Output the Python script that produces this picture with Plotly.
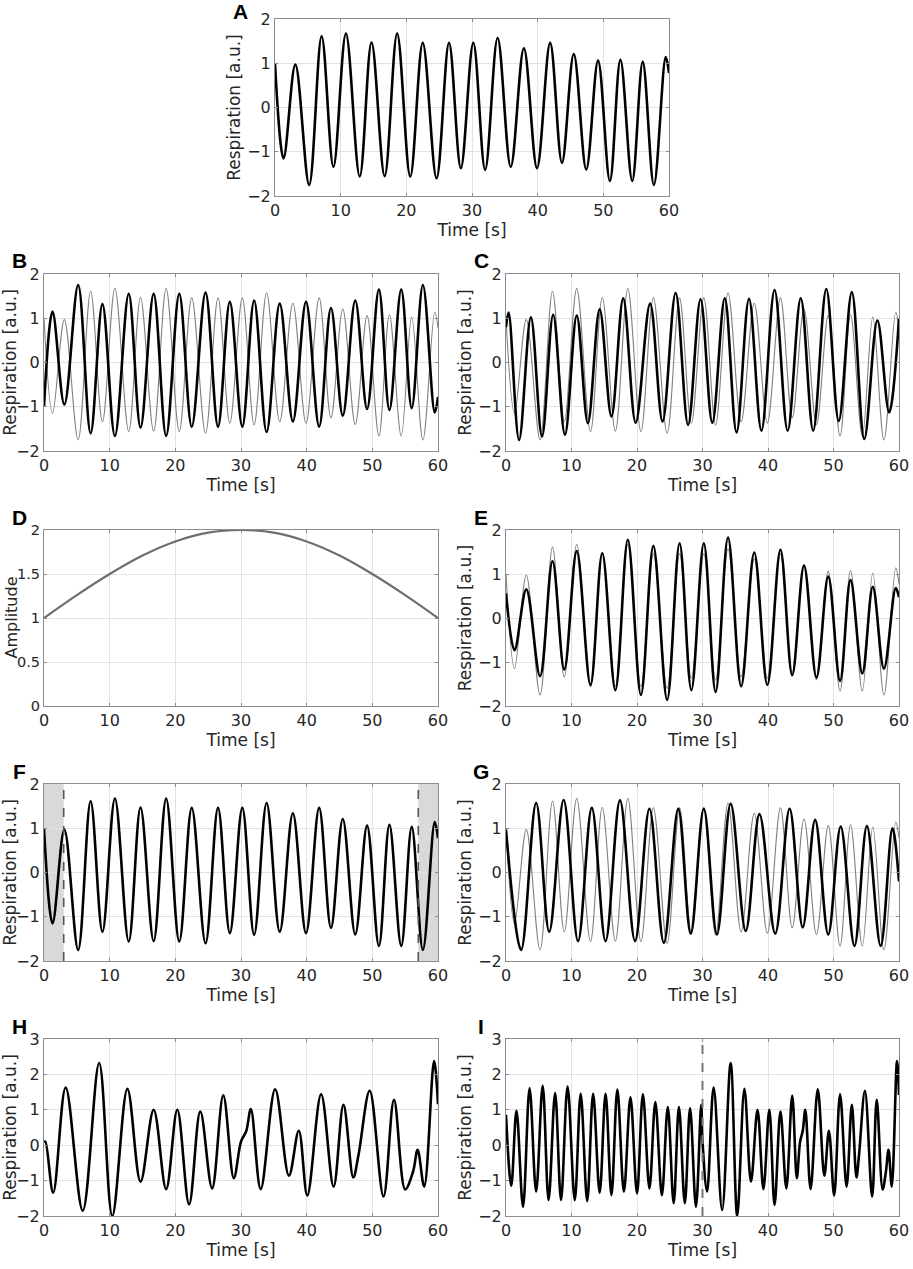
import plotly.graph_objects as go

# ---- data (extrema of each trace, time in s) ----

# panel A: original respiration signal (also the grey reference in B, C, E, G and the signal in F)
a_t = [0, 1.3, 3.1, 5.2, 7.1, 8.9, 10.8, 12.9, 14.7, 16.7, 18.6, 20.6, 22.5, 24.6, 26.5, 28.3, 30.2,
       32.0, 33.9, 35.9, 37.9, 39.9, 41.9, 43.7, 45.5, 47.4, 49.2, 51.0, 52.6, 54.4, 56.0, 57.7, 59.5, 60]
a_y = [1.0, -1.15, 0.97, -1.75, 1.61, -1.34, 1.67, -1.56, 1.47, -1.55, 1.67, -1.56, 1.46, -1.6, 1.46,
       -1.37, 1.46, -1.41, 1.57, -1.34, 1.34, -1.37, 1.46, -1.25, 1.21, -1.4, 1.06, -1.66, 1.08, -1.66,
       1.03, -1.75, 1.14, 0.78]

# panel B: inverted signal (same time points as A)
b_y = [-1.0, 1.15, -0.95, 1.75, -1.6, 1.32, -1.66, 1.55, -1.47, 1.55, -1.66, 1.55, -1.45, 1.58, -1.45,
       1.37, -1.45, 1.4, -1.57, 1.33, -1.33, 1.37, -1.45, 1.23, -1.2, 1.4, -1.05, 1.65, -1.07, 1.65,
       -1.03, 1.75, -1.13, -0.78]

# panel C: time-reversed signal
c_t = [0, 0.4, 2.0, 3.8, 5.5, 7.2, 9.0, 10.8, 12.5, 14.3, 16.1, 17.9, 19.8, 22.0, 23.9, 25.9, 27.8,
       29.7, 31.5, 33.4, 35.2, 37.1, 39.0, 41.0, 43.0, 45.0, 46.9, 48.9, 50.8, 52.8, 54.7, 56.7, 58.5, 60]
c_y = [0.8, 1.13, -1.75, 1.02, -1.67, 1.08, -1.63, 1.06, -1.37, 1.2, -1.22, 1.45, -1.36, 1.33, -1.33,
       1.57, -1.41, 1.43, -1.36, 1.45, -1.58, 1.44, -1.54, 1.64, -1.54, 1.45, -1.54, 1.66, -1.32, 1.59,
       -1.73, 0.95, -1.13, 1.0]

# panel D: amplitude envelope
d_t = [0, 5, 10, 15, 20, 25, 30, 35, 40, 45, 50, 55, 60]
d_y = [1.0, 1.26, 1.5, 1.71, 1.87, 1.97, 2.0, 1.97, 1.87, 1.71, 1.5, 1.26, 1.0]

# panel E: amplitude-modulated signal (same time points as A)
e_y = [0.56, -0.73, 0.65, -1.32, 1.29, -1.17, 1.52, -1.52, 1.47, -1.64, 1.78, -1.75, 1.64, -1.86, 1.7,
       -1.64, 1.7, -1.68, 1.83, -1.55, 1.49, -1.52, 1.55, -1.3, 1.19, -1.35, 0.94, -1.43, 0.86, -1.26,
       0.71, -1.15, 0.68, 0.47]

# panel F: excluded edges
f_window = [3, 57]

# panel G: time-shifted signal
g_t = [0, 2.3, 4.6, 6.6, 8.8, 11.0, 13.1, 15.2, 17.4, 19.7, 21.9, 24.1, 26.3, 28.2, 30.2, 32.2, 34.3,
       36.6, 38.7, 41.1, 43.3, 45.3, 47.2, 49.2, 51.1, 53.2, 55.1, 57.2, 59.0, 60]
g_y = [0.97, -1.75, 1.57, -1.34, 1.64, -1.55, 1.46, -1.55, 1.63, -1.55, 1.44, -1.59, 1.44, -1.38, 1.44,
       -1.4, 1.55, -1.32, 1.32, -1.38, 1.44, -1.24, 1.19, -1.4, 1.04, -1.66, 1.05, -1.66, 1.0, -0.2]

# panel H: irregular signal
h_t = [0, 0.2, 1.4, 3.3, 5.9, 8.4, 10.4, 12.7, 14.7, 16.7, 18.6, 20.3, 22.1, 23.8, 25.6, 27.3, 28.9,
       30.0, 30.8, 31.5, 33.0, 35.2, 37.3, 38.8, 40.1, 42.2, 44.1, 45.6, 47.1, 47.9, 49.6, 51.7, 53.3,
       55.0, 56.2, 56.9, 57.9, 59.4, 60]
h_y = [0.08, 0.1, -1.34, 1.63, -1.85, 2.32, -2.0, 1.59, -1.03, 1.0, -1.24, 1.0, -1.67, 0.95, -1.22,
       1.41, -0.93, 0.1, 0.4, 1.02, -1.24, 1.58, -0.86, 0.41, -1.42, 1.44, -1.17, 1.14, -0.91, -0.27,
       1.54, -1.45, 1.28, -1.25, -0.75, -0.13, -1.17, 2.38, 1.16]

# panel I: two signals concatenated, split at 30 s
i_split = 30
i_t = [0, 0.8, 1.6, 2.6, 3.6, 4.6, 5.6, 6.5, 7.5, 8.4, 9.4, 10.5, 11.4, 12.4, 13.3, 14.3, 15.2, 16.1,
       17.0, 18.0, 19.0, 20.0, 20.9, 21.9, 22.8, 23.8, 24.7, 25.6, 26.4, 27.3, 28.1, 29.0, 29.8, 30.0,
       30.7, 31.7, 33.0, 34.3, 35.3, 36.4, 37.4, 38.4, 39.3, 40.2, 41.0, 41.9, 42.8, 43.7, 44.4, 44.9,
       45.3, 45.7, 46.5, 47.6, 48.6, 49.3, 50.1, 51.0, 52.0, 52.8, 53.5, 53.9, 54.8, 55.9, 56.6, 57.5,
       58.0, 58.4, 58.9, 59.7, 60]
i_y = [0.86, -1.15, 0.97, -1.74, 1.61, -1.31, 1.68, -1.55, 1.47, -1.55, 1.66, -1.55, 1.45, -1.58, 1.45,
       -1.34, 1.45, -1.41, 1.57, -1.31, 1.35, -1.36, 1.44, -1.22, 1.22, -1.41, 1.08, -1.64, 1.08, -1.64,
       1.04, -1.74, 1.14, 0.1, -1.31, 1.63, -1.83, 2.32, -2.0, 1.59, -1.03, 1.0, -1.24, 1.0, -1.69,
       0.95, -1.22, 1.4, -0.93, 0.1, 0.4, 1.0, -1.24, 1.58, -0.86, 0.41, -1.42, 1.44, -1.17, 1.14,
       -0.91, -0.27, 1.54, -1.45, 1.28, -1.25, -0.75, -0.13, -1.17, 2.38, 1.42]

# ---- layout ----
W, H = 913, 1269
BLACK = "#000000"
GREY = "#808080"
AXCOL = "#8c8c8c"
GRID = "#e2e2e2"
TXT = "#262626"
FONT = "DejaVu Sans"

# panel boxes in pixels: (left, right, top, bottom)
LEFT = (44, 438)
RIGHT = (506, 899)
rows = [(274, 451), (530, 706), (784, 961), (1039, 1216)]
panels = {
    "A": ((275, 669), (19, 196)),
    "B": (LEFT, rows[0]), "C": (RIGHT, rows[0]),
    "D": (LEFT, rows[1]), "E": (RIGHT, rows[1]),
    "F": (LEFT, rows[2]), "G": (RIGHT, rows[2]),
    "H": (LEFT, rows[3]), "I": (RIGHT, rows[3]),
}
order = ["A", "B", "C", "D", "E", "F", "G", "H", "I"]

fig = go.Figure()


def ax_ids(name):
    n = order.index(name) + 1
    s = "" if n == 1 else str(n)
    return "x" + s, "y" + s, "xaxis" + s, "yaxis" + s


def add_line(name, x, y, color, width):
    xa, ya, _, _ = ax_ids(name)
    fig.add_trace(go.Scatter(x=x, y=y, mode="lines", xaxis=xa, yaxis=ya,
                             line=dict(color=color, width=width, shape="spline", smoothing=1),
                             showlegend=False, hoverinfo="skip"))


add_line("A", a_t, a_y, BLACK, 2.6)
add_line("B", a_t, a_y, GREY, 1.1)
add_line("B", a_t, b_y, BLACK, 2.6)
add_line("C", a_t, a_y, GREY, 1.1)
add_line("C", c_t, c_y, BLACK, 2.6)
add_line("D", d_t, d_y, "#6e6e6e", 2.2)
add_line("E", a_t, a_y, GREY, 1.1)
add_line("E", a_t, e_y, BLACK, 2.6)
add_line("F", a_t, a_y, BLACK, 2.6)
add_line("G", a_t, a_y, GREY, 1.1)
add_line("G", g_t, g_y, BLACK, 2.6)
add_line("H", h_t, h_y, BLACK, 2.6)
add_line("I", i_t, i_y, BLACK, 2.6)

tickfont = dict(family=FONT, size=16, color=TXT)
titlefont = dict(family=FONT, size=17, color=TXT)
layout = dict(width=W, height=H, margin=dict(l=0, r=0, t=0, b=0),
              paper_bgcolor="white", plot_bgcolor="white", font=dict(family=FONT, color=TXT))
annotations = []
for name in order:
    (l, r), (t, b) = panels[name]
    xa, ya, xk, yk = ax_ids(name)
    ytf = tickfont
    if name == "D":
        yr, dt, ytitle = [0, 2], 0.5, ""
        ytf = dict(tickfont, size=14.5)
    elif name in ("H", "I"):
        yr, dt, ytitle = [-2, 3], 1, "Respiration [a.u.]"
    else:
        yr, dt, ytitle = [-2, 2], 1, "Respiration [a.u.]"
    common = dict(showgrid=True, gridcolor=GRID, gridwidth=1, showline=True, linecolor=AXCOL,
                  linewidth=1, mirror="ticks", ticks="inside", ticklen=3, tickcolor=AXCOL,
                  zeroline=False, automargin=False, fixedrange=True)
    layout[xk] = dict(common, domain=[l / W, r / W], range=[0, 60], dtick=10, tick0=0,
                      tickfont=tickfont, anchor=ya,
                      title=dict(text="Time [s]", font=titlefont, standoff=4))
    layout[yk] = dict(common, domain=[1 - b / H, 1 - t / H], range=yr, dtick=dt, tick0=0,
                      tickfont=ytf, anchor=xa,
                      title=dict(text=ytitle, font=titlefont, standoff=2))
    if name == "A":
        lx, ly = l - 35, 11
    else:
        lx, ly = l - 25, t - 13
    annotations.append(dict(text="<b>%s</b>" % name, x=lx / W, y=1 - ly / H,
                            xref="paper", yref="paper", showarrow=False, xanchor="center",
                            yanchor="middle", font=dict(family="Liberation Sans", size=21, color="black")))

# the "Amplitude" title of panel D sits tight against its wider tick labels
(dl, dr), (dtop, dbot) = panels["D"]
annotations.append(dict(text="Amplitude", textangle=-90, x=0, y=1 - (dtop + dbot) / 2 / H,
                        xref="paper", yref="paper", showarrow=False, xanchor="left",
                        yanchor="middle", borderpad=0,
                        font=dict(family=FONT, size=16, color=TXT)))

shapes = []
fx, fy = ax_ids("F")[:2]
for x0, x1 in [(0, f_window[0]), (f_window[1], 60)]:
    shapes.append(dict(type="rect", xref=fx, yref=fy + " domain", x0=x0, x1=x1, y0=0, y1=1,
                       fillcolor="#d9d9d9", line=dict(width=0), layer="below"))
for xv in f_window:
    shapes.append(dict(type="line", xref=fx, yref=fy + " domain", x0=xv, x1=xv, y0=0, y1=1,
                       line=dict(color="#555555", width=1.6, dash="dash")))
ix, iy = ax_ids("I")[:2]
shapes.append(dict(type="line", xref=ix, yref=iy + " domain", x0=i_split, x1=i_split, y0=0, y1=1,
                   line=dict(color="#777777", width=2, dash="dash")))

layout["annotations"] = annotations
layout["shapes"] = shapes
fig.update_layout(**layout)

# drop the browser's default page margin so the 913 px figure fits the window
fig.write_html("out.html", config={"displayModeBar": False},
               post_script="document.body.style.margin = '0';")
